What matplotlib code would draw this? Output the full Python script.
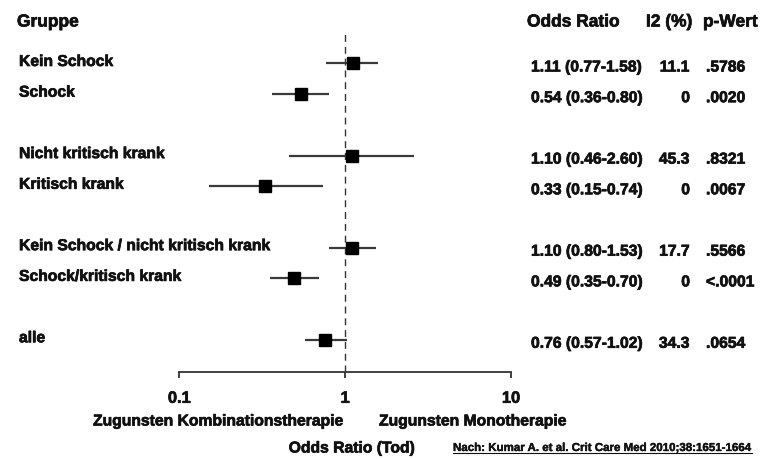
import matplotlib
matplotlib.use("Agg")
import matplotlib.pyplot as plt
import matplotlib.transforms as mtransforms
import matplotlib.patheffects as pe
from matplotlib.lines import Line2D

plt.rcParams["font.family"] = ["Liberation Sans", "DejaVu Sans"]
plt.rcParams["font.weight"] = "bold"

# data
groups = ["Kein Schock", "Schock", "Nicht kritisch krank", "Kritisch krank",
          "Kein Schock / nicht kritisch krank", "Schock/kritisch krank", "alle"]
row_pos = [0, 1, 3, 4, 6, 7, 9]
odds = [1.11, 0.54, 1.10, 0.33, 1.10, 0.49, 0.76]
ci_low = [0.77, 0.36, 0.46, 0.15, 0.80, 0.35, 0.57]
ci_high = [1.58, 0.80, 2.60, 0.74, 1.53, 0.70, 1.02]
i2 = ["11.1", "0", "45.3", "0", "17.7", "0", "34.3"]
p_values = [".5786", ".0020", ".8321", ".0067", ".5566", "<.0001", ".0654"]
x_ticks = [0.1, 1, 10]
x_ticklabels = ["0.1", "1", "10"]

W, H = 761, 459
TXT = "#111111"
FS = 11.3
HFS = 12.5
# slight stroke to mimic the heavy bold of the original
heavy = [pe.withStroke(linewidth=0.5, foreground=TXT)]

fig = plt.figure(figsize=(W / 100, H / 100), dpi=100)
ax = fig.add_axes([179.3 / W, (H - 372) / H, (511 - 179.3) / W, 340 / H])
ax.set_xscale("log")
ax.set_xlim(0.1, 10)
ax.set_ylim(10.05, -1.026)

# reference line at OR = 1
ax.axvline(1, color="#333333", lw=1.0, ls=(0, (5, 3.5)), zorder=1)

# confidence intervals + point estimates
ax.hlines(row_pos, ci_low, ci_high, color="#3a3a3a", lw=1.6, zorder=2)
ax.plot(odds, row_pos, "s", color="black", ms=8, zorder=3)

for s in ["left", "top", "right"]:
    ax.spines[s].set_visible(False)
ax.spines["bottom"].set_linewidth(1.3)
ax.spines["bottom"].set_color("#333333")
ax.set_yticks([])
ax.set_xticks(x_ticks)
ax.set_xticklabels(x_ticklabels)
ax.minorticks_off()
ax.tick_params(axis="x", direction="out", length=4.5, width=1.3, color="#333333",
               pad=9, labelsize=11.8, labelcolor=TXT)
for t in ax.get_xticklabels():
    t.set_path_effects(heavy)

# text columns
blend = mtransforms.blended_transform_factory(fig.transFigure, ax.transData)
lab_tr = mtransforms.offset_copy(blend, fig=fig, y=2, units="dots")
val_tr = mtransforms.offset_copy(blend, fig=fig, y=-3.5, units="dots")
kw = dict(va="center", fontsize=FS, color=TXT, path_effects=heavy)
for g, y, o, lo, hi, i, p in zip(groups, row_pos, odds, ci_low, ci_high, i2, p_values):
    ax.text(19 / W, y, g, transform=lab_tr, ha="left", **kw)
    ax.text(531 / W, y, f"{o:.2f} ({lo:.2f}-{hi:.2f})", transform=val_tr, ha="left", **kw)
    ax.text(690 / W, y, i, transform=val_tr, ha="right", **kw)
    ax.text(706 / W, y, p, transform=val_tr, ha="left", **kw)

# headers
hkw = dict(va="center", fontsize=HFS, color=TXT, path_effects=heavy)
hy = 1 - 22 / H
fig.text(17 / W, hy, "Gruppe", ha="left", **hkw)
fig.text(527 / W, hy, "Odds Ratio", ha="left", **hkw)
fig.text(646 / W, hy, "I2 (%)", ha="left", **hkw)
fig.text(703 / W, hy, "p-Wert", ha="left", **hkw)

# bottom annotations
fy = 1 - 421 / H
fig.text(345 / W, fy, "Zugunsten Kombinationstherapie", ha="right", **kw)
fig.text(379 / W, fy, "Zugunsten Monotherapie", ha="left", **kw)
fig.text(352 / W, 1 - 448 / H, "Odds Ratio (Tod)", ha="center", **kw)
ref = fig.text(453 / W, 1 - 448 / H, "Nach: Kumar A. et al. Crit Care Med 2010;38:1651-1664",
               ha="left", va="center", fontsize=8.3, color=TXT,
               path_effects=[pe.withStroke(linewidth=0.3, foreground=TXT)])

# underline the reference
fig.canvas.draw()
bb = ref.get_window_extent()
fig.add_artist(Line2D([bb.x0 / W, bb.x1 / W], [(bb.y0 + 1) / H, (bb.y0 + 1) / H],
                      transform=fig.transFigure, color=TXT, lw=0.8))

fig.savefig("out.png", dpi=100)
